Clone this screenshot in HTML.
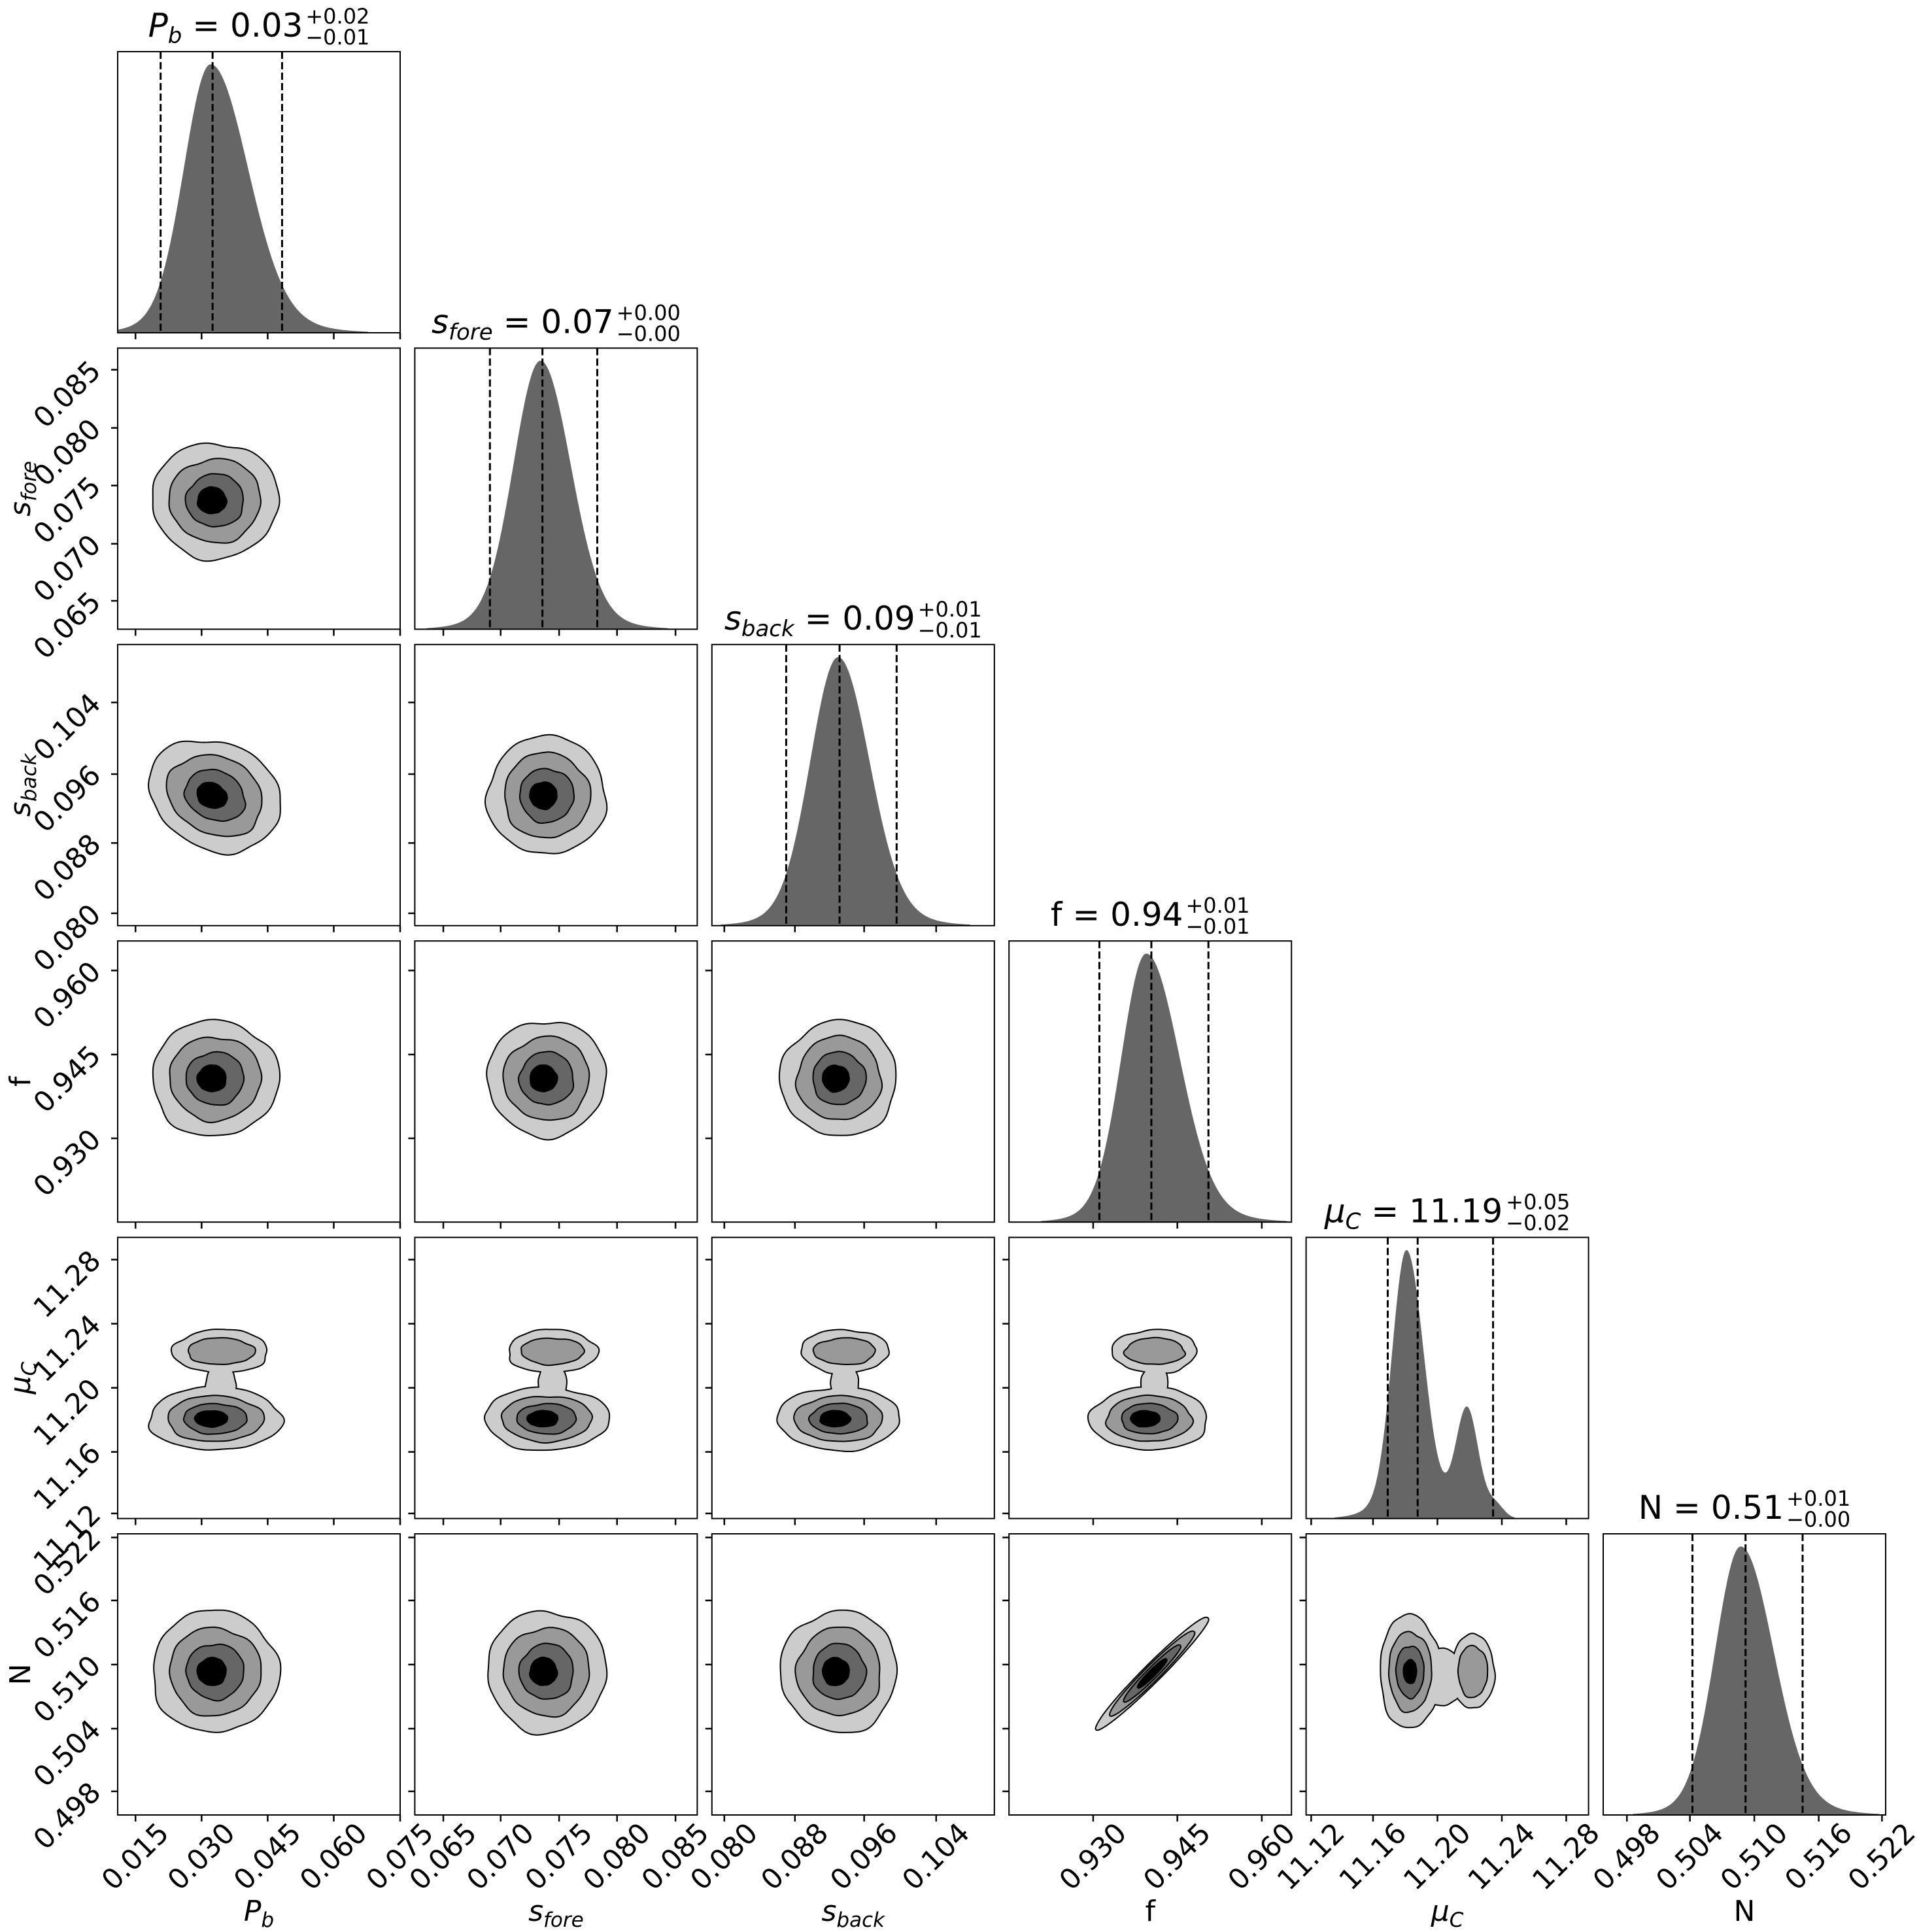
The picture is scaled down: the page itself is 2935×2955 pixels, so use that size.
<!DOCTYPE html>
<html><head><meta charset="utf-8">
<style>
html,body{margin:0;padding:0;background:#fff;}
svg{display:block;font-family:"DejaVu Sans","Liberation Sans",sans-serif;}
.tk{font-size:43px;fill:#000;}
.ax{font-size:44px;fill:#000;}
.tm{font-size:50px;fill:#000;}
.ts{font-size:32px;fill:#000;}
</style></head><body>
<svg id="s" width="2935" height="2955" viewBox="0 0 2935 2955" xmlns="http://www.w3.org/2000/svg">
<rect width="2935" height="2955" fill="#fff"/>
<g id="shapes"></g>
<g id="frames"></g>
<g id="xl" class="tk">
<text>0.015</text><text>0.030</text><text>0.045</text><text>0.060</text><text>0.075</text>
<text>0.065</text><text>0.070</text><text>0.075</text><text>0.080</text><text>0.085</text>
<text>0.080</text><text>0.088</text><text>0.096</text><text>0.104</text>
<text>0.930</text><text>0.945</text><text>0.960</text>
<text>11.12</text><text>11.16</text><text>11.20</text><text>11.24</text><text>11.28</text>
<text>0.498</text><text>0.504</text><text>0.510</text><text>0.516</text><text>0.522</text>
</g>
<g id="yl" class="tk">
<text>0.065</text><text>0.070</text><text>0.075</text><text>0.080</text><text>0.085</text>
<text>0.080</text><text>0.088</text><text>0.096</text><text>0.104</text>
<text>0.930</text><text>0.945</text><text>0.960</text>
<text>11.12</text><text>11.16</text><text>11.20</text><text>11.24</text><text>11.28</text>
<text>0.498</text><text>0.504</text><text>0.510</text><text>0.516</text><text>0.522</text>
</g>
<g id="xa" class="ax" text-anchor="middle">
<text><tspan font-style="italic">P</tspan><tspan font-style="italic" font-size="31" dy="9">b</tspan></text>
<text><tspan font-style="italic">s</tspan><tspan font-style="italic" font-size="31" dy="9">fore</tspan></text>
<text><tspan font-style="italic">s</tspan><tspan font-style="italic" font-size="31" dy="9">back</tspan></text>
<text>f</text>
<text><tspan font-style="italic">μ</tspan><tspan font-style="italic" font-size="31" dy="9">C</tspan></text>
<text>N</text>
</g>
<g id="ya" class="ax" text-anchor="middle">
<text><tspan font-style="italic">s</tspan><tspan font-style="italic" font-size="31" dy="9">fore</tspan></text>
<text><tspan font-style="italic">s</tspan><tspan font-style="italic" font-size="31" dy="9">back</tspan></text>
<text>f</text>
<text><tspan font-style="italic">μ</tspan><tspan font-style="italic" font-size="31" dy="9">C</tspan></text>
<text>N</text>
</g>
<g id="tt">
<text class="tm"><tspan font-style="italic">P</tspan><tspan font-style="italic" font-size="34" dy="10">b</tspan><tspan dy="-10"> = 0.03</tspan></text><text class="ts">+0.02</text><text class="ts">−0.01</text>
<text class="tm"><tspan font-style="italic">s</tspan><tspan font-style="italic" font-size="34" dy="10">fore</tspan><tspan dy="-10"> = 0.07</tspan></text><text class="ts">+0.00</text><text class="ts">−0.00</text>
<text class="tm"><tspan font-style="italic">s</tspan><tspan font-style="italic" font-size="34" dy="10">back</tspan><tspan dy="-10"> = 0.09</tspan></text><text class="ts">+0.01</text><text class="ts">−0.01</text>
<text class="tm">f = 0.94</text><text class="ts">+0.01</text><text class="ts">−0.01</text>
<text class="tm"><tspan font-style="italic">μ</tspan><tspan font-style="italic" font-size="34" dy="10">C</tspan><tspan dy="-10"> = 11.19</tspan></text><text class="ts">+0.05</text><text class="ts">−0.02</text>
<text class="tm">N = 0.51</text><text class="ts">+0.01</text><text class="ts">−0.00</text>
</g>
</svg>
<script>
(function(){
var NS="http://www.w3.org/2000/svg";
var W=432,H=430;
function CX(c){return 180+454.4*c;}
function RY(r){return 79+453.4*r;}
var ticks=[[0.063,0.297,0.531,0.765,1.0],[0.101,0.304,0.511,0.716,0.923],[0.044,0.294,0.539,0.794],[0.298,0.596,0.895],[0.018,0.237,0.465,0.693,0.921],[0.084,0.307,0.535,0.763,0.987]];
var shapes=document.getElementById('shapes'),frames=document.getElementById('frames');
function el(n,a,p){var e=document.createElementNS(NS,n);for(var k in a)e.setAttribute(k,a[k]);(p||shapes).appendChild(e);return e;}
var hp=[[.329,.093,.13,[.152,.336,.582]],[.445,.094,.105,[.266,.452,.646]],[.447,.097,.109,[.263,.452,.654]],[.486,.087,.116,[.32,.504,.706]],null,[.487,.089,.114,[.316,.504,.706]]];
function gen(x,c,sl,sr){var d=x-c,s=d<0?sl:sr;return 0.93*Math.exp(-0.5*d*d/(s*s))+0.07*Math.exp(-0.5*d*d/(3.2*s*s));}
function mu(x){var d=x-.355,s=d<0?.05:.06;return 0.92*Math.exp(-0.5*d*d/(s*s))+0.08*Math.exp(-0.5*Math.pow((x-.37)/.11,2))+0.4*Math.exp(-0.5*Math.pow((x-.57)/.04,2))+0.05*Math.exp(-0.5*Math.pow((x-.67)/.03,2));}
for(var k=0;k<6;k++){
  var x0=CX(k),y0=RY(k),vals=[],mx=0;
  for(var i=0;i<=500;i++){var x=i/500;var v=k==4?mu(x):gen(x,hp[k][0],hp[k][1],hp[k][2]);vals.push(v);if(v>mx)mx=v;}
  var d="M"+x0+","+(y0+H);
  for(var i=0;i<=500;i++){var v=vals[i]/mx;if(v<0.004)v=0;d+=" L"+(x0+i/500*W).toFixed(1)+","+(y0+H-v*0.955*H).toFixed(1);}
  d+=" L"+(x0+W)+","+(y0+H)+"Z";
  el('path',{d:d,fill:'#666666'});
  var ds=k==4?[.289,.395,.662]:hp[k][3];
  ds.forEach(function(f){el('line',{x1:x0+f*W,x2:x0+f*W,y1:y0,y2:y0+H,stroke:'#000','stroke-width':3,'stroke-dasharray':'11,5'});});
}
function blob(cx,cy,rx,ry,ang,seed,amp){
  var a=ang*Math.PI/180,ca=Math.cos(a),sa=Math.sin(a),d="";
  for(var i=0;i<=160;i++){var t=i/160*2*Math.PI;
    var r=1+amp*(0.5*Math.sin(3*t+seed)+0.3*Math.sin(5*t+2*seed)+0.25*Math.sin(7*t+3*seed)+0.15*Math.sin(11*t+seed*5));
    var x=rx*r*Math.cos(t),y=ry*r*Math.sin(t);
    d+=(i?" L":"M")+(cx+x*ca-y*sa).toFixed(1)+","+(cy+x*sa+y*ca).toFixed(1);}
  return d+"Z";
}
var cols=['#cccccc','#999999','#666666','#000000'];
function drawLevels(levels){
  levels.forEach(function(L,i){
    L.forEach(function(p){el('path',{d:p,fill:'none',stroke:'#000','stroke-width':4,'stroke-linejoin':'round'});});
    L.forEach(function(p){el('path',{d:p,fill:cols[i]});});
  });
}
var colC=[.345,.467,.45,.496],colR=[.222,.208,.204,.197];
var rowC={1:.542,2:.537,3:.489,5:.49},rowR={1:.204,2:.208,3:.204,5:.215};
var F=[1,.72,.45,.22];
var seed=1;
for(var r=1;r<6;r++)for(var c=0;c<r;c++){
  var x0=CX(c),y0=RY(r);seed+=1.7;
  var lv=[[],[],[],[]];
  if(r==4 && c<4){
    var cx=x0+colC[c]*W,rx=colR[c]*1.05*W;
    var cyl=y0+.645*H,ryl=.11*H,cyu=y0+.405*H,ryu=.075*H,rxu=colR[c]*.75*W,cxu=cx+.02*W;
    var fl=[1,.72,.47,.24];
    for(var i=0;i<4;i++)lv[i].push(blob(cx-(i==3?6:0),cyl,rx*fl[i],ryl*fl[i],0,seed+i,0.05));
    lv[0].push(blob(cxu,cyu,rxu,ryu,0,seed+5,0.06));
    lv[0].push(blob(cx+.02*W,y0+.52*H,rx*.22,.07*H,0,seed+6,0.05));
    lv[1].push(blob(cxu,cyu,rxu*.7,ryu*.6,0,seed+7,0.06));
  } else if(r==5 && c==4){
    var cyy=y0+.49*H;
    var fl=[1,.7,.45,.2];
    for(var i=0;i<4;i++)lv[i].push(blob(x0+.368*W,cyy,.105*W*fl[i],.2*H*fl[i],0,seed+i,0.05));
    lv[0].push(blob(x0+.59*W,cyy,.075*W,.13*H,0,seed+5,0.05));
    lv[0].push(blob(x0+.48*W,cyy+.02*H,.08*W,.1*H,0,seed+6,0.05));
    lv[1].push(blob(x0+.59*W,cyy,.05*W,.09*H,0,seed+7,0.05));
  } else if(r==5 && c==3){
    var fl=[1,.75,.5,.25];
    for(var i=0;i<4;i++)lv[i].push(blob(x0+.507*W,y0+.496*H,120*fl[i],13*fl[i]+(i==0?0:1),-45,seed,0.01));
  } else {
    var cx=x0+colC[c]*W,cy=y0+rowC[r]*H,rx=colR[c]*W,ry=rowR[r]*H,ang=(r==2&&c==0)?25:0;
    if(ang){rx*=1.08;ry*=0.9;}
    for(var i=0;i<4;i++)lv[i].push(blob(cx-(i==3?5:0),cy,rx*F[i],ry*F[i],ang,seed+i*1.3,0.05));
  }
  drawLevels(lv);
}
for(var r=0;r<6;r++)for(var c=0;c<=r;c++){
  var x0=CX(c),y0=RY(r);
  el('rect',{x:x0,y:y0,width:W,height:H,fill:'none',stroke:'#000','stroke-width':2},frames);
  ticks[c].forEach(function(f){el('line',{x1:x0+f*W,x2:x0+f*W,y1:y0+H,y2:y0+H+10,stroke:'#000','stroke-width':2.5},frames);});
  if(c<r)ticks[r].forEach(function(f){var y=y0+(1-f)*H;el('line',{x1:x0-10,x2:x0,y1:y,y2:y,stroke:'#000','stroke-width':2.5},frames);});
}
var xl=document.getElementById('xl').children,n=0;
for(var c=0;c<6;c++)ticks[c].forEach(function(f){var t=xl[n++];var x=CX(c)+f*W;
  t.setAttribute('text-anchor','middle');t.setAttribute('dominant-baseline','central');
  t.setAttribute('transform','translate('+(x)+',2840) rotate(-45)');});
var yl=document.getElementById('yl').children;n=0;
for(var r=1;r<6;r++)ticks[r].forEach(function(f){var t=yl[n++];var y=RY(r)+(1-f)*H;
  t.setAttribute('text-anchor','middle');t.setAttribute('dominant-baseline','central');
  t.setAttribute('transform','translate(103,'+(y+38)+') rotate(-45)');});
var xa=document.getElementById('xa').children;
for(var c=0;c<6;c++){xa[c].setAttribute('x',CX(c)+W/2);xa[c].setAttribute('y',2938);}
var ya=document.getElementById('ya').children;
for(var r=1;r<6;r++){var t=ya[r-1];t.setAttribute('transform','translate(46,'+(RY(r)+H/2)+') rotate(-90)');}
var tt=document.getElementById('tt').children;
for(var k=0;k<6;k++){
  var m=tt[3*k],sp=tt[3*k+1],sb=tt[3*k+2];
  var top=RY(k);
  m.setAttribute('x',0);m.setAttribute('y',top-23);
  var w=m.getBBox().width;
  var sw=Math.max(sp.getBBox().width,sb.getBBox().width);
  var start=CX(k)+W/2-(w+4+sw)/2;
  m.setAttribute('x',start);
  sp.setAttribute('x',start+w+4);sp.setAttribute('y',top-43);
  sb.setAttribute('x',start+w+4);sb.setAttribute('y',top-11);
}
})();
</script>
</body></html>
